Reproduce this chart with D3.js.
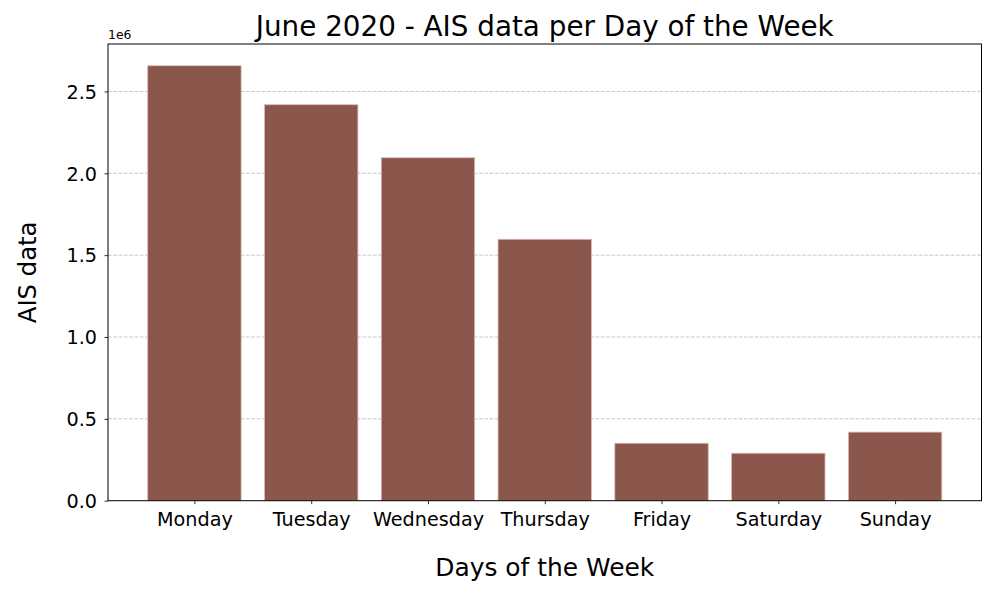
<!DOCTYPE html>
<html>
<head>
<meta charset="utf-8">
<script src="https://cdn.jsdelivr.net/npm/d3@7"></script>
<style>
  body { margin: 0; background: #fff; }
  text { font-family: "DejaVu Sans", sans-serif; fill: #000; }
</style>
</head>
<body>
<svg width="997" height="598"></svg>
<script>
// data
var days = ["Monday", "Tuesday", "Wednesday", "Thursday", "Friday", "Saturday", "Sunday"];
var counts = [2657000, 2419000, 2095000, 1597000, 351000, 290000, 419000];
var yTicks = [0, 0.5e6, 1.0e6, 1.5e6, 2.0e6, 2.5e6];

var svg = d3.select("svg"),
	margin = {top: 44, right: 15.5, bottom: 97.3, left: 108},
	width = svg.attr("width") - margin.left - margin.right,
	height = svg.attr("height") - margin.top - margin.bottom;

var g = svg.append("g")
	.attr("transform", "translate(" + margin.left + "," + margin.top + ")");

// matplotlib style limits: 5% margin on x, max*1.05 on y
var x = d3.scaleLinear().domain([-0.74, days.length - 1 + 0.74]).range([0, width]);
var y = d3.scaleLinear().domain([0, d3.max(counts) * 1.05]).range([height, 0]);
var barW = x(0.8) - x(0);

// grid behind bars
g.selectAll("line.grid")
	.data(yTicks.slice(1))
	.enter().append("line")
		.attr("class", "grid")
		.attr("x1", 0).attr("x2", width)
		.attr("y1", function(d) { return y(d); })
		.attr("y2", function(d) { return y(d); })
		.attr("stroke", "#c8c8c8")
		.attr("stroke-width", 1)
		.attr("stroke-dasharray", "3.7,1.6");

g.selectAll("rect.bar")
	.data(counts)
	.enter().append("rect")
		.attr("class", "bar")
		.attr("x", function(d, i) { return x(i) - barW / 2; })
		.attr("y", function(d) { return y(d); })
		.attr("width", barW)
		.attr("height", function(d) { return height - y(d); })
		.attr("fill", "#8b574c")
		.attr("stroke", "#d9bcb6")
		.attr("stroke-width", 0.8);

// axes
var xAxis = d3.axisBottom(x)
	.tickValues(d3.range(days.length))
	.tickFormat(function(d) { return days[d]; })
	.tickSizeInner(3.5).tickSizeOuter(0).tickPadding(4);

var yAxis = d3.axisLeft(y)
	.tickValues(yTicks)
	.tickFormat(function(d) { return d3.format(".1f")(d / 1e6); })
	.tickSizeInner(3.5).tickSizeOuter(0).tickPadding(7.5);

var gx = g.append("g")
	.attr("transform", "translate(0," + height + ")")
	.call(xAxis);
var gy = g.append("g").call(yAxis);

[gx, gy].forEach(function(a) {
	a.select(".domain").remove();
	a.selectAll("line").attr("stroke", "#000").attr("stroke-width", 0.8);
	a.selectAll("text")
		.style("font-family", "DejaVu Sans")
		.style("font-size", "19.2px")
		.attr("fill", "#000");
});
gx.selectAll("text").attr("dy", "0.95em");
gy.selectAll("text").attr("dy", "0.35em");

// frame
g.append("rect")
	.attr("width", width).attr("height", height)
	.attr("fill", "none")
	.attr("stroke", "#000")
	.attr("stroke-width", 1);

// offset text
g.append("text")
	.attr("x", 0).attr("y", -5)
	.style("font-size", "12.4px")
	.text("1e6");

svg.append("text")
	.attr("x", margin.left + width / 2)
	.attr("y", 36)
	.attr("text-anchor", "middle")
	.style("font-size", "27.8px")
	.text("June 2020 - AIS data per Day of the Week");

svg.append("text")
	.attr("x", margin.left + width / 2)
	.attr("y", 576)
	.attr("text-anchor", "middle")
	.style("font-size", "24.9px")
	.text("Days of the Week");

svg.append("text")
	.attr("transform", "translate(35.5," + (margin.top + height / 2) + ") rotate(-90)")
	.attr("text-anchor", "middle")
	.style("font-size", "24.3px")
	.text("AIS data");
</script>
</body>
</html>
